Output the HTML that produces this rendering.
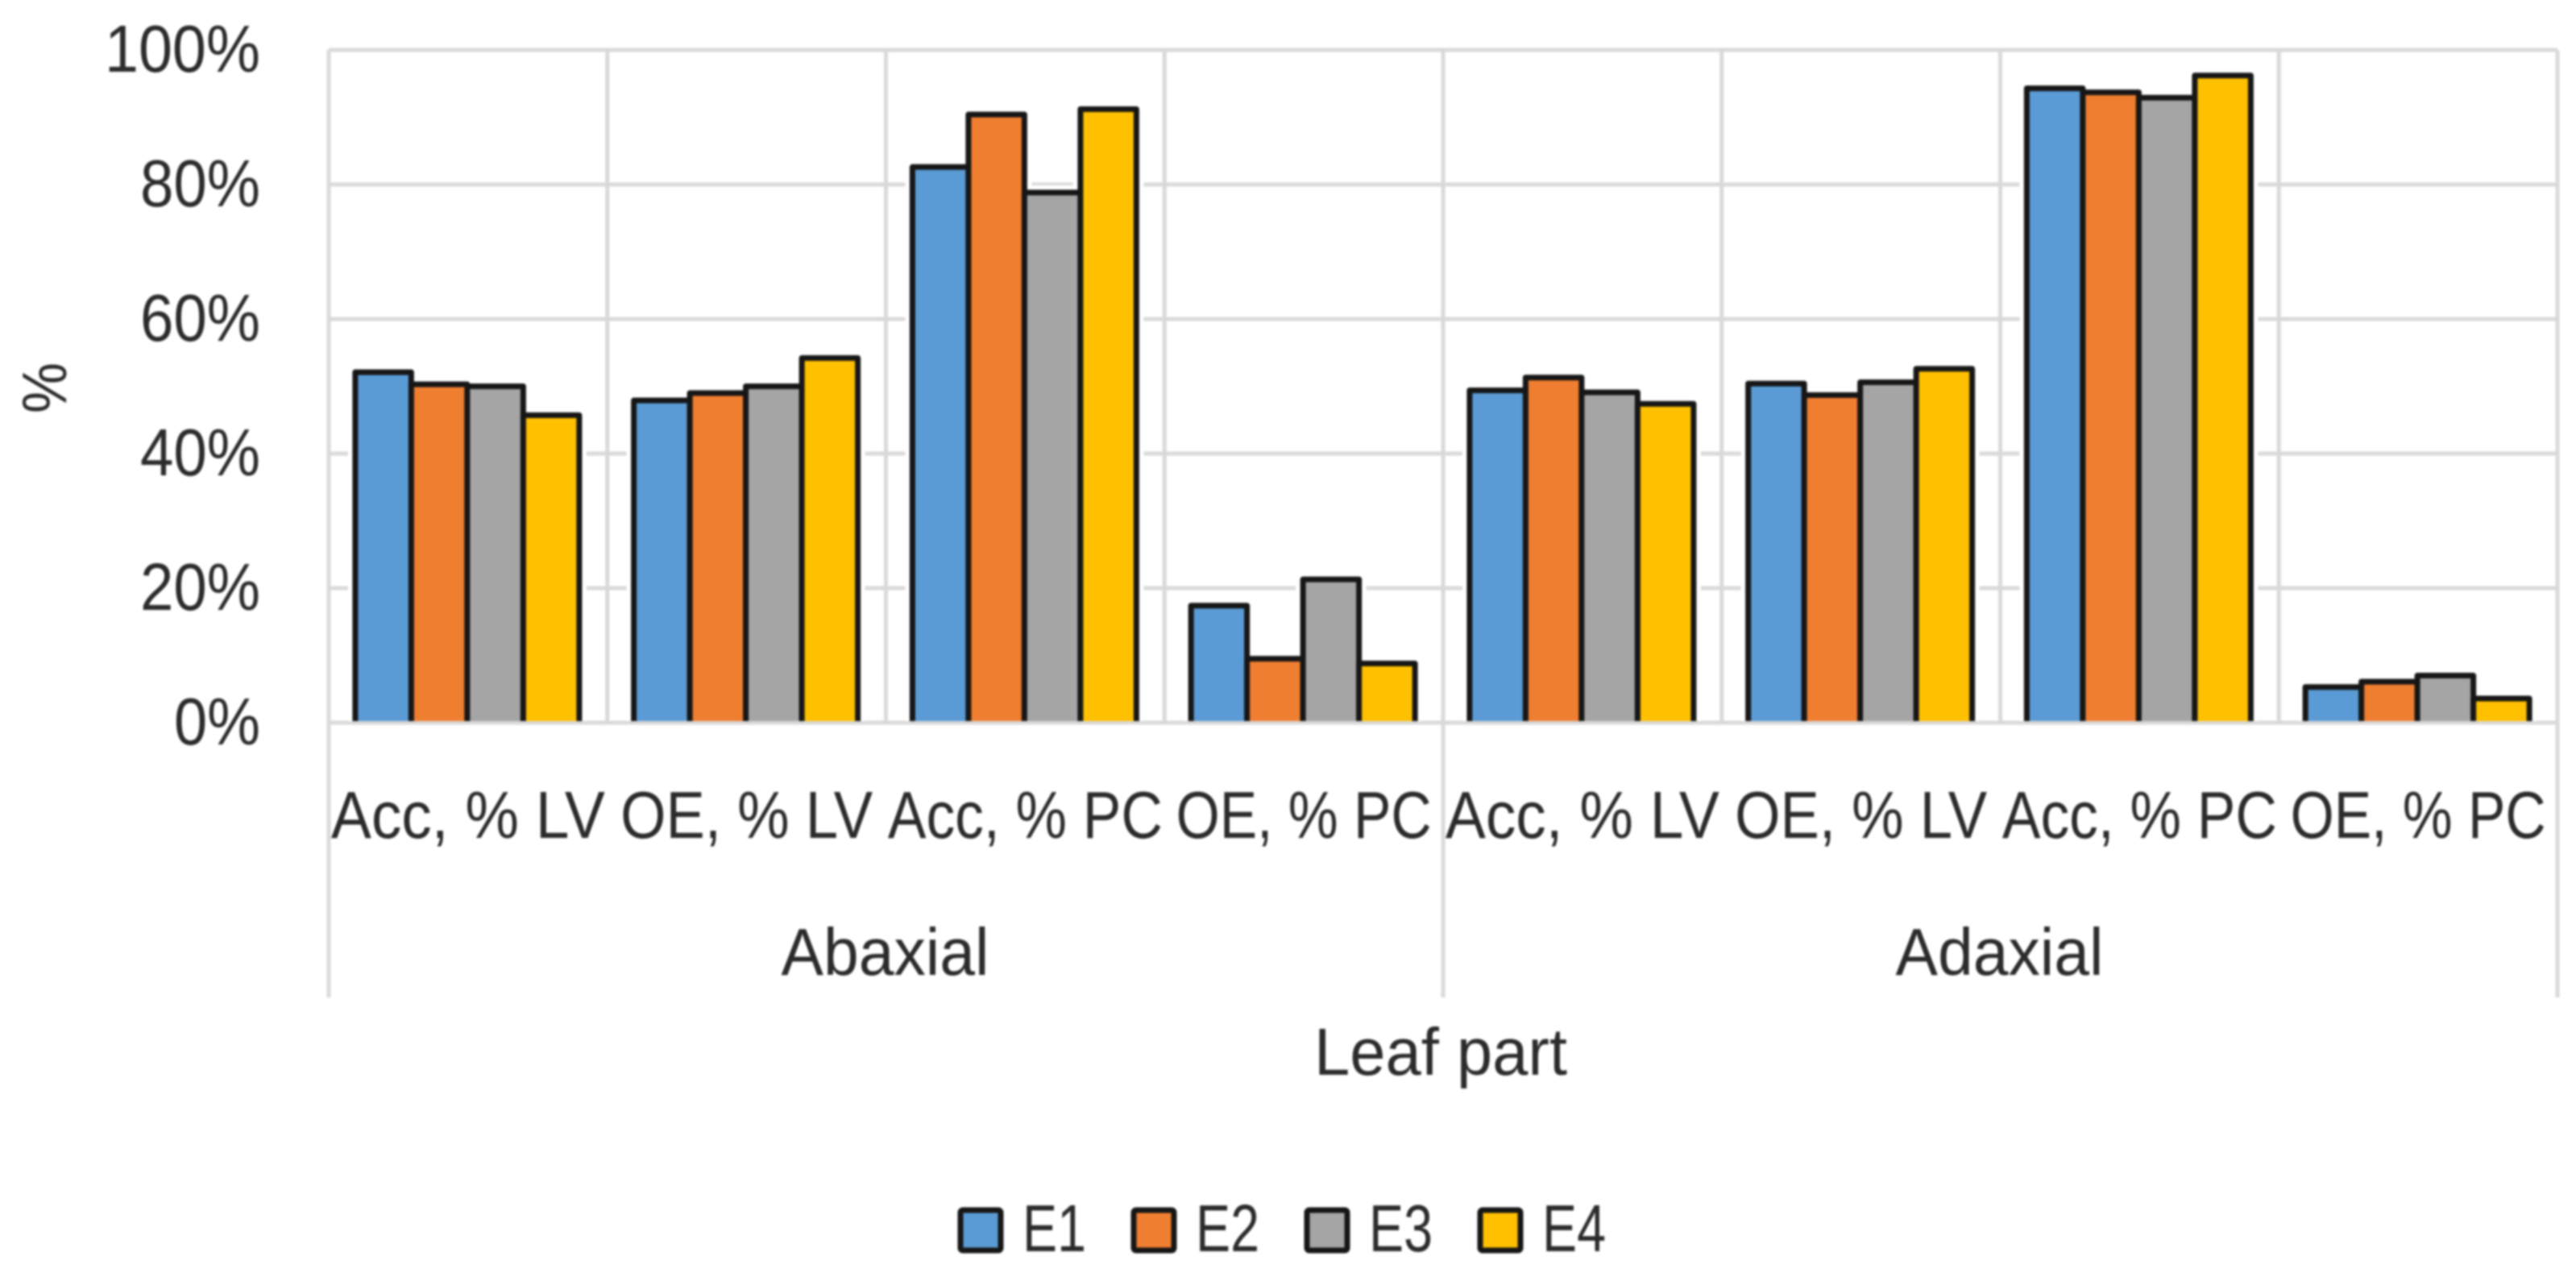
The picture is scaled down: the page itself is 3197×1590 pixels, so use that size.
<!DOCTYPE html>
<html lang="en">
<head>
<meta charset="utf-8">
<title>Leaf part chart</title>
<style>
html,body{margin:0;padding:0;background:#fff;width:3197px;height:1590px;overflow:hidden}
svg{display:block;filter:blur(1.2px)}
text{font-family:"Liberation Sans",sans-serif;fill:#2b2b2b;font-size:83px}
</style>
</head>
<body>
<svg id="chart" xmlns="http://www.w3.org/2000/svg" width="3197" height="1590" viewBox="0 0 3197 1590">
  <defs><clipPath id="plot-clip"><rect x="400" y="0" width="2790" height="895"/></clipPath></defs>
  <rect width="3197" height="1590" fill="#fff"/>
  <g id="grid"></g>
  <g id="bars" clip-path="url(#plot-clip)"></g>
  <g id="yticks"></g>
  <g id="xticks"></g>
  <text transform="translate(82,513) rotate(-90)" textLength="63" lengthAdjust="spacingAndGlyphs" font-size="78" style="font-size:78px">%</text>
  <text x="1631" y="1334" textLength="314" lengthAdjust="spacingAndGlyphs">Leaf part</text>
  <g id="legend"></g>
</svg>
<script>
const categories = ['Acc, % LV','OE, % LV','Acc, % PC','OE, % PC','Acc, % LV','OE, % LV','Acc, % PC','OE, % PC'];
const groups = ['Abaxial','Adaxial'];
const seriesNames = ['E1','E2','E3','E4'];
const e1Values = [52.1,47.9,82.6,17.4,49.4,50.4,94.3,5.3];
const e2Values = [50.3,49.0,90.4,9.5,51.3,48.7,93.7,6.1];
const e3Values = [50.0,50.0,78.8,21.3,49.1,50.6,92.9,7.0];
const e4Values = [45.7,54.2,91.2,8.8,47.4,52.6,96.2,3.6];
const yTicks = [0,20,40,60,80,100];

const seriesValues = [e1Values,e2Values,e3Values,e4Values];
const colors = ['#5b9bd5','#f07e30','#a5a5a5','#ffc000'];
const labelWidths = {'Acc, % LV':340,'OE, % LV':313,'Acc, % PC':341,'OE, % PC':317};
const tickWidths = {0:107,20:149,40:149,60:149,80:149,100:193};
const legendLayout = {swatchStart:1192,step:215,swatch:50,textOffset:77,textWidth:79};

const left = 408, right = 3174, top0 = 62, base = 897, groupBottom = 1238;
const slot = (right-left)/categories.length;
const barW = 69.5;
const NS = 'http://www.w3.org/2000/svg';
function y(v){return base-(base-top0)*v/100;}
function cx(i){return left+(i+.5)*slot;}
function make(tag,attrs,parent,txt){
  const e=document.createElementNS(NS,tag);
  for(const k in attrs)e.setAttribute(k,attrs[k]);
  if(txt!==undefined)e.textContent=txt;
  parent.appendChild(e);
  return e;
}
const grid=document.getElementById('grid'),bars=document.getElementById('bars'),
      yt=document.getElementById('yticks'),xt=document.getElementById('xticks'),
      lg=document.getElementById('legend');
const gridStyle={stroke:'#d9d9d9','stroke-width':5,fill:'none'};

yTicks.forEach(function(t){
  const l=make('line',Object.assign({x1:left,x2:right,y1:y(t),y2:y(t)},gridStyle),grid);
  
  
  const tx=make('text',{x:323,y:y(t)+27,'text-anchor':'end',textLength:tickWidths[t],lengthAdjust:'spacingAndGlyphs'},yt,t+'%');
  
  
});

for(let i=0;i<=categories.length;i++){
  const x=left+i*slot;
  const isGroupEdge=i%(categories.length/groups.length)===0;
  const l=make('line',Object.assign({x1:x,x2:x,y1:top0,y2:isGroupEdge?groupBottom:base},gridStyle),grid);
  
  
}

categories.forEach(function(c,i){
  const center=cx(i)-1;
  seriesValues.forEach(function(vals,s){
    const x=center+(s-2)*barW;
    make('rect',{x:x,y:y(vals[i]),width:barW,height:base-y(vals[i])+10,fill:'#fff',stroke:'#fff','stroke-width':18},bars);
  });
  seriesValues.forEach(function(vals,s){
    const x=center+(s-2)*barW;
    const r=make('rect',{x:x,y:y(vals[i]),width:barW,height:base-y(vals[i])+10,fill:colors[s],stroke:'#161616','stroke-width':7,'stroke-linejoin':'round'},bars);
    
    
  });
  const tx=make('text',{x:cx(i),y:1040,'text-anchor':'middle',textLength:labelWidths[c],lengthAdjust:'spacingAndGlyphs'},xt,c);
  
  
});

groups.forEach(function(g,i){
  const span=(right-left)/groups.length;
  const tx=make('text',{x:left+(i+.5)*span-1,y:1210,'text-anchor':'middle',textLength:258,lengthAdjust:'spacingAndGlyphs'},xt,g);
  
  
});

seriesNames.forEach(function(n,s){
  const x=legendLayout.swatchStart+s*legendLayout.step;
  const r=make('rect',{x:x,y:1502,width:legendLayout.swatch,height:legendLayout.swatch,rx:3,fill:colors[s],stroke:'#161616','stroke-width':7},lg);
  
  
  const tx=make('text',{x:x+legendLayout.textOffset,y:1553,textLength:legendLayout.textWidth,lengthAdjust:'spacingAndGlyphs'},lg,n);
  
  
});
</script>
</body>
</html>
